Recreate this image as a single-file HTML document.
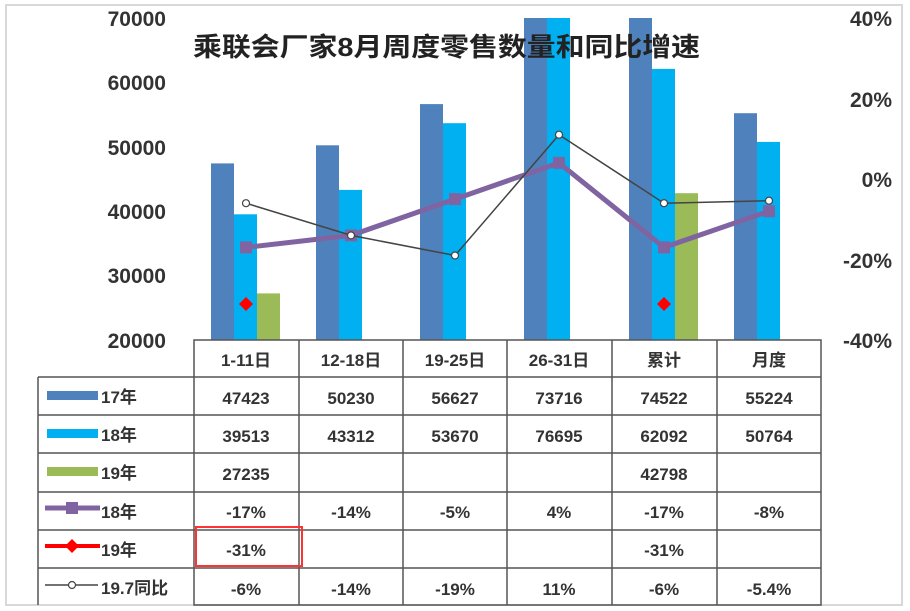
<!DOCTYPE html>
<html><head><meta charset="utf-8"><style>
html,body{margin:0;padding:0;background:#fff;}
svg{display:block;font-family:"Liberation Sans","Noto Sans CJK SC",sans-serif;}
</style></head><body>
<svg width="910" height="611" viewBox="0 0 910 611" xmlns="http://www.w3.org/2000/svg">
<rect x="6" y="5" width="896" height="600" fill="#fff" stroke="#d8d8d8" stroke-width="2"/>
<g font-size="21" font-weight="bold" fill="#333" text-anchor="end">
<text x="166" y="26">70000</text>
<text x="166" y="90">60000</text>
<text x="166" y="155">50000</text>
<text x="166" y="219">40000</text>
<text x="166" y="283">30000</text>
<text x="166" y="348">20000</text>
</g>
<g font-size="21" font-weight="bold" fill="#333" text-anchor="end">
<text x="892" y="26">40%</text>
<text x="892" y="107">20%</text>
<text x="892" y="187">0%</text>
<text x="892" y="268">-20%</text>
<text x="892" y="348">-40%</text>
</g>
<g>
<rect x="211" y="163.4" width="23" height="176.6" fill="#4f81bd"/>
<rect x="234" y="214.3" width="23" height="125.7" fill="#00b0f0"/>
<rect x="257" y="293.4" width="23" height="46.6" fill="#9bbb59"/>
<rect x="316" y="145.3" width="23" height="194.7" fill="#4f81bd"/>
<rect x="339" y="189.9" width="23" height="150.1" fill="#00b0f0"/>
<rect x="420" y="104.1" width="23" height="235.9" fill="#4f81bd"/>
<rect x="443" y="123.2" width="23" height="216.8" fill="#00b0f0"/>
<rect x="524" y="18" width="23" height="322" fill="#4f81bd"/>
<rect x="547" y="18" width="23" height="322" fill="#00b0f0"/>
<rect x="629" y="18" width="23" height="322" fill="#4f81bd"/>
<rect x="652" y="68.9" width="23" height="271.1" fill="#00b0f0"/>
<rect x="675" y="193.2" width="23" height="146.8" fill="#9bbb59"/>
<rect x="734" y="113.2" width="23" height="226.8" fill="#4f81bd"/>
<rect x="757" y="141.9" width="23" height="198.1" fill="#00b0f0"/>
</g>
<polyline points="246,247.4 351,235.4 455,199.1 559,162.9 664,247.4 769,211.2" fill="none" stroke="#8064a2" stroke-width="5"/>
<g fill="#8064a2">
<rect x="240" y="241.4" width="12" height="12"/><rect x="345" y="229.4" width="12" height="12"/>
<rect x="449" y="193.1" width="12" height="12"/><rect x="553" y="156.9" width="12" height="12"/>
<rect x="658" y="241.4" width="12" height="12"/><rect x="763" y="205.2" width="12" height="12"/>
</g>
<polyline points="246,203.2 351,235.4 455,255.5 559,134.7 664,203.2 769,200.7" fill="none" stroke="#444" stroke-width="1.5"/>
<g fill="#fff" stroke="#444" stroke-width="1.2">
<circle cx="246" cy="203.2" r="3.5"/><circle cx="351" cy="235.4" r="3.5"/><circle cx="455" cy="255.5" r="3.5"/>
<circle cx="559" cy="134.7" r="3.5"/><circle cx="664" cy="203.2" r="3.5"/><circle cx="769" cy="200.7" r="3.5"/>
</g>
<polygon points="246,297 253,304 246,311 239,304" fill="#ff0000"/>
<polygon points="664,297 671,304 664,311 657,304" fill="#ff0000"/>
<text x="193" y="56" font-size="26" font-weight="bold" fill="#222" textLength="507" lengthAdjust="spacingAndGlyphs">乘联会厂家8月周度零售数量和同比增速</text>
<g stroke="#555" stroke-width="1.5" fill="none">
<rect x="194" y="340" width="627" height="265"/>
<line x1="38" y1="377" x2="821" y2="377"/>
<line x1="38" y1="415" x2="821" y2="415"/>
<line x1="38" y1="453" x2="821" y2="453"/>
<line x1="38" y1="492" x2="821" y2="492"/>
<line x1="38" y1="530" x2="821" y2="530"/>
<line x1="38" y1="568" x2="821" y2="568"/>
<line x1="38" y1="377" x2="38" y2="605"/>
<line x1="299" y1="340" x2="299" y2="605"/>
<line x1="403" y1="340" x2="403" y2="605"/>
<line x1="507" y1="340" x2="507" y2="605"/>
<line x1="612" y1="340" x2="612" y2="605"/>
<line x1="717" y1="340" x2="717" y2="605"/>
</g>
<rect x="47" y="391" width="51" height="9" fill="#4f81bd"/>
<rect x="47" y="429" width="51" height="9" fill="#00b0f0"/>
<rect x="47" y="467" width="51" height="9" fill="#9bbb59"/>
<line x1="45" y1="508" x2="100" y2="508" stroke="#8064a2" stroke-width="5"/><rect x="66" y="502" width="12" height="12" fill="#8064a2"/>
<line x1="45" y1="546" x2="100" y2="546" stroke="#ff0000" stroke-width="4"/><polygon points="72,539 79,546 72,553 65,546" fill="#ff0000"/>
<line x1="45" y1="585" x2="98" y2="585" stroke="#444" stroke-width="1.5"/><circle cx="72" cy="585" r="3.5" fill="#fff" stroke="#444" stroke-width="1.2"/>
<g font-size="17" font-weight="bold" fill="#333">
<text x="101" y="403">17年</text>
<text x="101" y="441">18年</text>
<text x="101" y="479">19年</text>
<text x="101" y="518">18年</text>
<text x="101" y="556">19年</text>
<text x="101" y="594">19.7同比</text>
</g>
<g font-size="17" font-weight="bold" fill="#333" text-anchor="middle">
<text x="246" y="366">1-11日</text><text x="351" y="366">12-18日</text><text x="455" y="366">19-25日</text>
<text x="559" y="366">26-31日</text><text x="664" y="366">累计</text><text x="769" y="366">月度</text>
<text x="246" y="404">47423</text><text x="351" y="404">50230</text><text x="455" y="404">56627</text>
<text x="559" y="404">73716</text><text x="664" y="404">74522</text><text x="769" y="404">55224</text>
<text x="246" y="442">39513</text><text x="351" y="442">43312</text><text x="455" y="442">53670</text>
<text x="559" y="442">76695</text><text x="664" y="442">62092</text><text x="769" y="442">50764</text>
<text x="246" y="480">27235</text><text x="664" y="480">42798</text>
<text x="246" y="518">-17%</text><text x="351" y="518">-14%</text><text x="455" y="518">-5%</text>
<text x="559" y="518">4%</text><text x="664" y="518">-17%</text><text x="769" y="518">-8%</text>
<text x="246" y="556">-31%</text><text x="664" y="556">-31%</text>
<text x="246" y="595">-6%</text><text x="351" y="595">-14%</text><text x="455" y="595">-19%</text>
<text x="559" y="595">11%</text><text x="664" y="595">-6%</text><text x="769" y="595">-5.4%</text>
</g>
<rect x="196" y="527" width="106" height="39" fill="none" stroke="#ff3333" stroke-width="2"/>
</svg>
</body></html>
